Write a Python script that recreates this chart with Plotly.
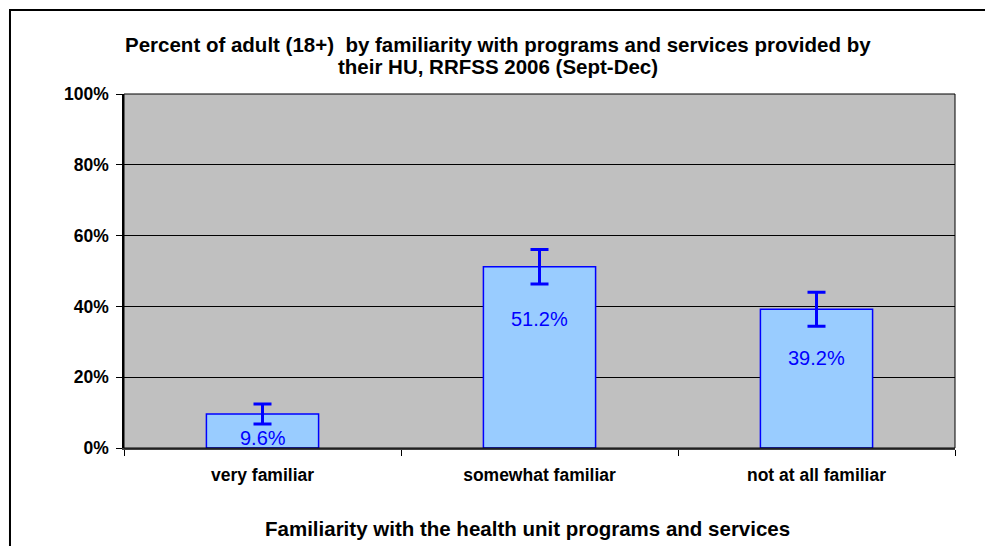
import plotly.graph_objects as go

categories = ["very familiar", "somewhat familiar", "not at all familiar"]
percent = [9.6, 51.2, 39.2]
error = [2.8, 4.9, 4.8]
label_shift = [-24, -52, -49]
y_ticks = [0, 20, 40, 60, 80, 100]
y_tick_text = ["0%", "20%", "40%", "60%", "80%", "100%"]

title_lines = ["Percent of adult (18+)  by familiarity with programs and services provided by",
               "their HU, RRFSS 2006 (Sept-Dec)"]
x_title = "Familiarity with the health unit programs and services"

FONT = "Liberation Sans, Arial, sans-serif"

fig = go.Figure()
fig.add_trace(go.Bar(
    x=categories, y=percent,
    marker=dict(color="#99CCFF", line=dict(color="#0000FF", width=1.5)),
    error_y=dict(type="data", array=error, visible=True, color="#0000FF",
                 thickness=3, width=9),
    hoverinfo="skip",
))

for c, v, s in zip(categories, percent, label_shift):
    fig.add_annotation(x=c, y=v, yshift=s, text=f"{v:.1f}%", showarrow=False,
                       font=dict(family=FONT, size=20, color="#0000FF"),
                       xref="x", yref="y")

# title as two lines (Excel-like line spacing)
for line, yy in zip(title_lines, [1.1412, 1.0763]):
    fig.add_annotation(x=0.45, y=yy, xref="paper", yref="paper", yanchor="middle",
                       text=f"<b>{line}</b>", showarrow=False,
                       font=dict(family=FONT, size=20.5, color="black"))

fig.add_annotation(x=0.486, y=-0.227, xref="paper", yref="paper", yanchor="middle",
                   text=f"<b>{x_title}</b>", showarrow=False,
                   font=dict(family=FONT, size=20.5, color="black"))

# outer chart border
fig.add_shape(type="rect", xref="paper", yref="paper",
              x0=-0.1372, y0=-0.5, x1=1.2, y1=1.2373,
              line=dict(color="black", width=2), fillcolor="rgba(0,0,0,0)", layer="below")
# plot area border
fig.add_shape(type="rect", xref="paper", yref="paper", x0=0, y0=0, x1=1, y1=1,
              line=dict(color="black", width=1), fillcolor="rgba(0,0,0,0)")

# figure sits 8px inside the page (default body margin), so it is sized to fit the window
fig.update_layout(
    width=985, height=538,
    margin=dict(l=116, r=38, t=86, b=98),
    paper_bgcolor="white", plot_bgcolor="#C0C0C0",
    showlegend=False,
    bargap=0.595,
    xaxis=dict(type="category", tickson="boundaries", ticks="outside", ticklen=6,
               tickcolor="black", showline=True, linecolor="#404040", linewidth=2,
               ticklabelstandoff=10,
               tickfont=dict(family=FONT, size=17.5, color="black", weight="bold"),
               showgrid=False, zeroline=False),
    yaxis=dict(range=[0, 100], tickvals=y_ticks, ticktext=y_tick_text,
               ticks="outside", ticklen=6, tickcolor="black", ticklabelstandoff=4,
               showline=True, linecolor="black", linewidth=1.5,
               showgrid=True, gridcolor="black", gridwidth=1, zeroline=False,
               tickfont=dict(family=FONT, size=17.5, color="black", weight="bold")),
)

fig.write_html("out.html")
